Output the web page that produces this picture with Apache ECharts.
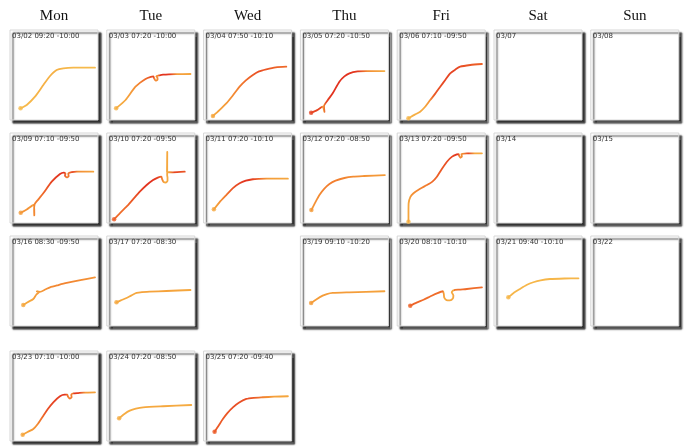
<!DOCTYPE html>
<html><head><meta charset="utf-8">
<script src="https://cdn.jsdelivr.net/npm/echarts@6/dist/echarts.min.js"></script>
<style>html,body{margin:0;padding:0;background:#fff}#c{width:684px;height:446px}</style>
</head><body><div id="c"></div>
<script>
const days = ['Mon','Tue','Wed','Thu','Fri','Sat','Sun'];
const panelLabels = [
 '03/02 09:20 -10:00','03/03 07:20 -10:00','03/04 07:50 -10:10','03/05 07:20 -10:50','03/06 07:10 -09:50','03/07','03/08',
 '03/09 07:10 -09:50','03/10 07:20 -09:50','03/11 07:20 -10:10','03/12 07:20 -08:50','03/13 07:20 -09:50','03/14','03/15',
 '03/16 08:30 -09:50','03/17 07:20 -08:30','03/19 09:10 -10:20','03/20 08:10 -10:10','03/21 09:40 -10:10','03/22',
 '03/23 07:10 -10:00','03/24 07:20 -08:50','03/25 07:20 -09:40'];
const panelRow = [0,0,0,0,0,0,0, 1,1,1,1,1,1,1, 2,2,2,2,2,2, 3,3,3];
const panelCol = [0,1,2,3,4,5,6, 0,1,2,3,4,5,6, 0,1,3,4,5,6, 0,1,2];

// tracks: [x, y, heat]  (heat 0 = yellow-orange, 1 = red)
const track0302 = [[12,13,0.1],[19,16.7,0.12],[28.4,25.9,0.15],[37.9,38.9,0.2],[45.5,48.9,0.2],[53,55.6,0.2],[60.6,57.4,0.15],[72,58.1,0.12],[96.6,58.1,0.1]];
const track0303 = [[10.6,13,0.2],[21.3,22.2,0.3],[32.6,37,0.45],[44,45.6,0.7],[50,48,0.85],[53,48.4,0.9],[54,46,0.6],[55.5,43.8,0.5],[57.6,44.6,0.5],[57.6,47,0.6],[56.3,48.6,0.8],[60,49.6,0.95],[64,50.3,1],[70.5,50.8,0.95],[78,51,0.4],[95.1,51.1,0.3]];
const track0304 = [[10.6,4.4,0.3],[18,11,0.35],[25.8,18.5,0.4],[33,27,0.5],[40.9,37,0.6],[48,44,0.7],[56,50,0.8],[63,54,0.85],[71.2,56.3,0.8],[82,58.5,0.75],[94,59.2,0.7]];
const track0305 = [[12.2,8.1,0.9],[19,11,0.9],[25.3,14.8,0.9],[27.3,9,0.4],[26.8,15.5,0.6],[31,22,0.9],[36.7,29.7,1],[44.3,42.6,1],[50,48.5,1],[55.7,51.9,1],[65,54,0.95],[74.7,54.4,0.5],[95.5,54.4,0.2]];
const track0306 = [[12.8,1.9,0.15],[20,6,0.2],[26.1,9.2,0.25],[32,15,0.3],[37.5,22.2,0.45],[43,29,0.8],[48.9,37,0.85],[55,45,0.9],[60.2,51.9,0.9],[66,56,0.9],[71.6,59.2,0.85],[83,61.1,0.8],[96.3,62.2,0.75]];
const track0309 = [[12.2,11.4,0.4],[19,15,0.45],[26.5,20,0.45],[27.6,12,0.3],[27.6,8.5,0.3],[27.4,14,0.35],[28,21,0.5],[32,26,0.6],[37.8,33,0.7],[47.4,45.9,0.9],[56.8,54.4,1],[61,56,1],[63,55,0.6],[62.6,52.6,0.6],[64.5,50.6,0.6],[66.6,52,0.7],[66.2,55,0.8],[70,56.6,0.9],[75.8,57,0.5],[94.7,57,0.3]];
const track0310 = [[8.3,4.1,0.8],[15,11,0.7],[22.4,18.1,0.7],[30,26.5,0.8],[37.5,34.8,0.9],[45,42,1],[52.6,47.8,1],[58,50.5,0.9],[62,51.5,0.6],[63,48.5,0.4],[64.6,45.6,0.3],[67,45,0.3],[69,47,0.3],[69,50.5,0.3],[68.6,53,0.4],[68.7,79,0.3],[68.4,57,0.3],[75,56.3,0.9],[88.6,57,0.8]];
const track0311 = [[11.7,15.2,0.3],[18,23,0.4],[25.8,31.1,0.6],[33,38.5,0.8],[40.9,44.1,0.9],[48,47,1],[56,48.6,0.9],[63,49,0.7],[71.2,49.2,0.4],[95.8,49.2,0.3]];
const track0312 = [[12.5,14.4,0.4],[17,23,0.45],[21.6,31.1,0.5],[27,38,0.55],[33,43.3,0.6],[40,47,0.6],[50,50,0.55],[60,51.5,0.5],[72.7,52.2,0.45],[96,53.3,0.4]];
const track0313 = [[12.8,1.4,0.1],[12.8,12,0.15],[13,22,0.2],[15,29,0.3],[18.5,33,0.45],[26,38,0.55],[33.8,42.2,0.6],[40,46,0.7],[45.1,51.4,0.75],[50,59,0.8],[56.5,68.1,0.85],[62,73.5,0.9],[67.8,76.3,1],[70,76.5,0.5],[70.5,74.5,0.5],[72,72.5,0.5],[73.5,74,0.5],[73,76.6,0.9],[79.2,77.4,0.9],[86,77.4,0.3],[96.3,77.4,0.25]];
const track0316 = [[15.1,23.3,0.3],[20,26.5,0.3],[26.5,30,0.3],[30,35,0.4],[33,37.8,0.4],[30.5,38.5,0.35],[34.1,38,0.4],[40,40.5,0.45],[45.5,43,0.5],[55,45.5,0.55],[64.4,47.8,0.55],[80,51,0.5],[96.6,54.1,0.45]];
const track0317 = [[11,26.3,0.3],[16,28.5,0.3],[22.4,31.1,0.3],[28,34,0.3],[33.8,36.7,0.3],[40,37.6,0.35],[48.9,38.1,0.35],[67.8,38.9,0.35],[95.1,40,0.3]];
const track0319 = [[12.2,25.6,0.4],[18,29.5,0.4],[25.3,33.7,0.4],[30,35.5,0.4],[36.7,36.7,0.4],[55.7,37.4,0.4],[95.5,38.6,0.35]];
const track0320 = [[14.8,22.6,0.75],[22,26,0.75],[29.9,29.2,0.7],[37,32.5,0.7],[45.1,36.3,0.7],[52,38.6,0.7],[53,35.5,0.35],[53.5,31.5,0.3],[56,28.8,0.3],[60,28.5,0.3],[63.2,30.5,0.3],[63.8,34,0.3],[62,37.5,0.4],[64,39.6,0.6],[70,40.4,0.7],[79.2,41.1,0.7],[96.3,43,0.7]];
const track0321 = [[16.3,31.9,0.15],[22,36.5,0.15],[29.5,41.1,0.15],[37,45.5,0.15],[44.7,48.6,0.15],[53,50.8,0.15],[63.6,52.2,0.15],[80,52.8,0.15],[96,53,0.15]];
const track0323 = [[14.4,7,0.3],[20,10,0.35],[26.5,13.3,0.4],[32,19.5,0.5],[37.9,28.1,0.7],[43,35.5,0.85],[49.2,43,0.9],[56.8,49.7,0.95],[62,51.5,1],[65,51.4,0.6],[66,49.2,0.6],[68,47.2,0.6],[70,48.6,0.6],[69.6,51.4,0.8],[72,52.8,1],[77.6,53.3,0.9],[84,53.8,0.4],[96.6,54.1,0.35]];
const track0324 = [[14,25.2,0.25],[20,30,0.25],[26.1,33.7,0.25],[33,36,0.25],[41.3,37.4,0.3],[64,38.6,0.3],[96,40,0.25]];
const track0325 = [[12.5,10.3,0.8],[17,17,0.8],[21.9,24.4,0.8],[27,31,0.8],[33.3,37.4,0.85],[40,42.5,0.85],[48.5,46.7,0.85],[57,48,0.8],[67.4,48.6,0.55],[80,49.2,0.35],[95.8,49.7,0.3]];

const panelTracks = [track0302,track0303,track0304,track0305,track0306,null,null,
 track0309,track0310,track0311,track0312,track0313,null,null,
 track0316,track0317,track0319,track0320,track0321,null,
 track0323,track0324,track0325];

// ---- layout & style ----
const rowTop = [30,133,236,351];
const colLeft = c => 10 + c*96.8;
const PW = 88, PH = 90;
const heatStops = [[0,[246,196,83]],[0.35,[245,163,60]],[0.65,[241,118,44]],[1,[226,50,31]]];
function heatColor(h){
  for(let i=1;i<heatStops.length;i++){
    if(h<=heatStops[i][0]){
      const a=heatStops[i-1], b=heatStops[i], t=(h-a[0])/(b[0]-a[0]);
      const c=a[1].map((v,k)=>Math.round(v+(b[1][k]-v)*t));
      return 'rgb('+c.join(',')+')';
    }
  }
  return 'rgb('+heatStops[heatStops.length-1][1].join(',')+')';
}
function gradientFor(tr){
  const xs=tr.map(p=>p[0]); const mn=Math.min(...xs), mx=Math.max(...xs);
  const stops=[]; let run=-Infinity;
  tr.forEach(p=>{ if(p[0]>run){ run=p[0]; stops.push({offset:(p[0]-mn)/(mx-mn), color:heatColor(p[2])}); } });
  return {type:'linear',x:0,y:0,x2:1,y2:0,colorStops:stops};
}

const grids=[], xAxes=[], yAxes=[], series=[], graphics=[];
days.forEach((d,c)=>graphics.push({type:'text', x:colLeft(c)+PW/2, y:16,
  style:{text:d, font:'15px "Liberation Serif"', fill:'#111', align:'center', verticalAlign:'middle', textAlign:'center', textVerticalAlign:'middle'}}));

panelLabels.forEach((lab,i)=>{
  const L=colLeft(panelCol[i]), T=rowTop[panelRow[i]];
  grids.push({left:L, top:T, width:PW, height:PH, show:true, backgroundColor:'#fff',
    borderColor:'#d6d6d6', borderWidth:1, shadowColor:'rgba(20,20,20,0.85)', shadowBlur:1.5, shadowOffsetX:3, shadowOffsetY:3});
  xAxes.push({gridIndex:i, type:'value', min:0, max:100, show:false});
  yAxes.push({gridIndex:i, type:'value', min:0, max:100, show:false});
  graphics.push({type:'text', x:L+2, y:T+6, z:100,
    style:{text:lab, font:'7px "DejaVu Sans"', fill:'#333', align:'left', verticalAlign:'middle', textAlign:'left', textVerticalAlign:'middle'}});
  const tr=panelTracks[i];
  if(tr){
    series.push({type:'line', xAxisIndex:i, yAxisIndex:i, data:tr.map(p=>[p[0],p[1]]),
      smooth:0.22, showSymbol:false, silent:true, animation:false,
      lineStyle:{width:1.8, color:gradientFor(tr), cap:'round', join:'round'}});
    series.push({type:'scatter', xAxisIndex:i, yAxisIndex:i, data:[[tr[0][0],tr[0][1]]],
      symbol:'circle', symbolSize:4.5, silent:true, animation:false, itemStyle:{color:heatColor(tr[0][2])}});
  }
});

const chart = echarts.init(document.getElementById('c'));
chart.setOption({animation:false, backgroundColor:'#fff', grid:grids, xAxis:xAxes, yAxis:yAxes, series:series, graphic:graphics});
</script></body></html>
